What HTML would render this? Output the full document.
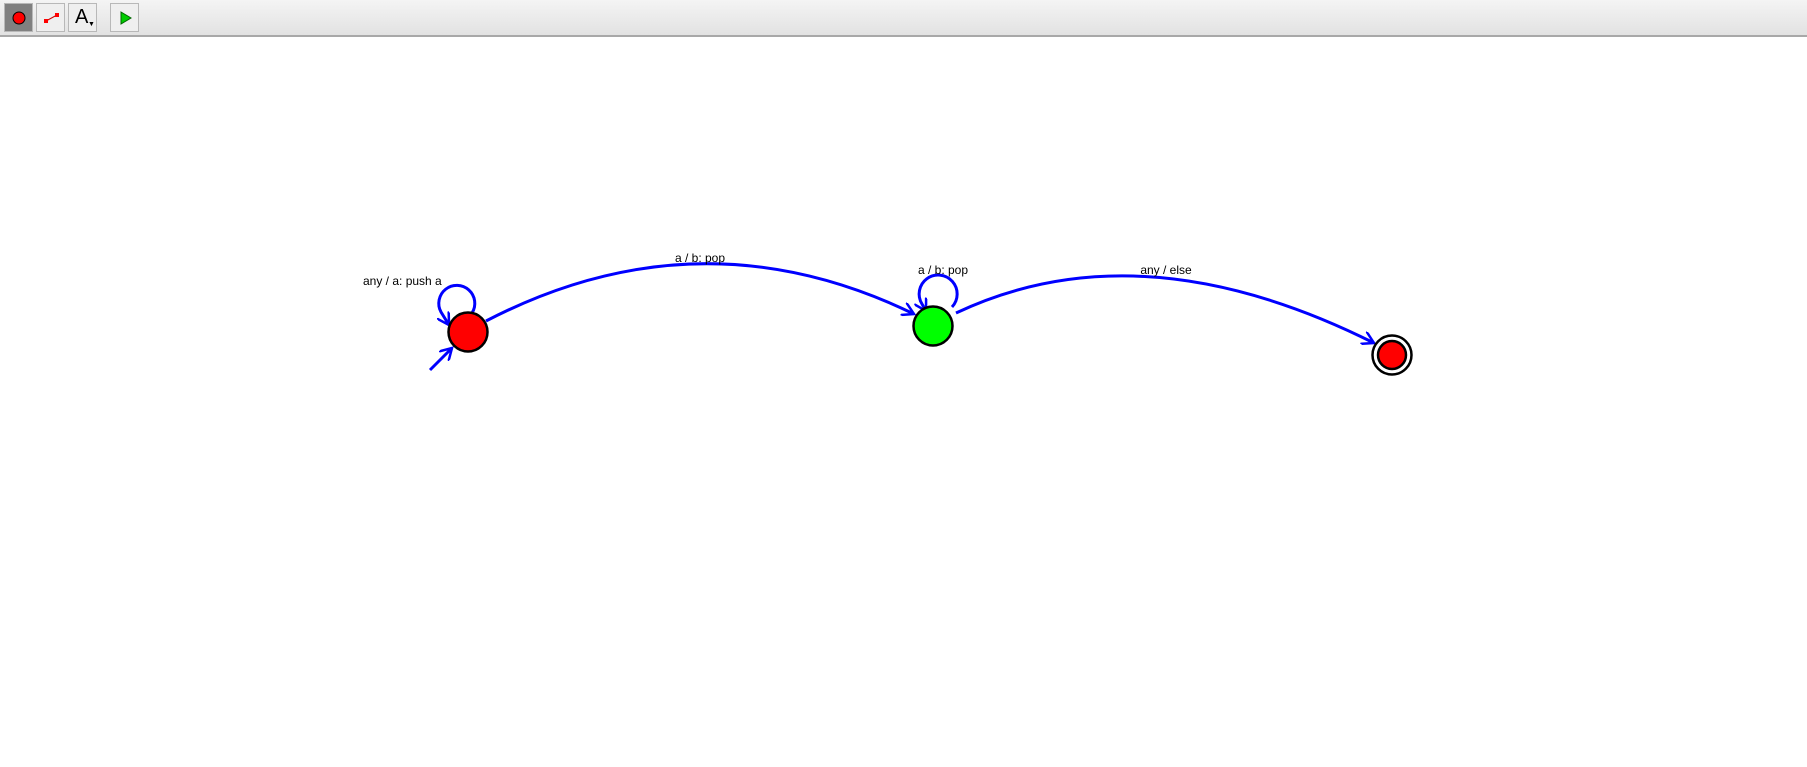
<!DOCTYPE html>
<html><head><meta charset="utf-8"><style>
body{margin:0;width:1807px;height:767px;overflow:hidden;background:#fff;font-family:"Liberation Sans",sans-serif}
#tb{position:absolute;left:0;top:0;width:1807px;height:35px;background:linear-gradient(#f4f4f4,#e2e2e2);border-bottom:2px solid #a8a8a8}
.btn{position:absolute;top:3px;width:29px;height:29px;box-sizing:border-box;border:1px solid #b8b8b8;background:#efefef}
</style></head><body>
<div id="tb">
<div class="btn" style="left:4px;background:#808080"><svg width="27" height="27"><circle cx="14" cy="14" r="6" fill="#f00" stroke="#000"/></svg></div>
<div class="btn" style="left:36px"><svg width="27" height="27"><line x1="9" y1="17" x2="20" y2="11" stroke="#c00"/><rect x="7" y="15" width="4" height="4" fill="#f00"/><rect x="18" y="9" width="4" height="4" fill="#f00"/></svg></div>
<div class="btn" style="left:68px"><span style="position:absolute;left:6px;top:2px;font-size:20px">A</span><span style="position:absolute;left:19px;top:17px;font-size:7px">▼</span></div>
<div class="btn" style="left:110px"><svg width="27" height="27"><polygon points="10,8 20,14 10,20" fill="#0c0" stroke="#060"/></svg></div>
</div>
<svg width="1807" height="767" style="position:absolute;left:0;top:0">
<defs><marker id="ar" markerWidth="14" markerHeight="14" refX="12" refY="7" orient="auto" markerUnits="userSpaceOnUse"><path d="M0,0 L12,7 L0,14" fill="none" stroke="#00f" stroke-width="2.5"/></marker></defs>
<g fill="none" stroke="#00f" stroke-width="3">
<path d="M486,321 Q700,210 914,314" marker-end="url(#ar)"/>
<path d="M956,313 Q1140,226 1374,343" marker-end="url(#ar)"/>
<path d="M472,313 A18,18 0 1 0 441,312 L449,325" marker-end="url(#ar)"/>
<path d="M952,307 A19,19 0 1 0 922,304 L926,311" marker-end="url(#ar)"/>
<path d="M430,370 L452,348" marker-end="url(#ar)"/>
</g>
<circle cx="468" cy="332" r="19.5" fill="#f00" stroke="#000" stroke-width="2.5"/>
<circle cx="933" cy="326" r="19.5" fill="#0f0" stroke="#000" stroke-width="2.5"/>
<circle cx="1392" cy="355" r="19.5" fill="#fff" stroke="#000" stroke-width="2.5"/>
<circle cx="1392" cy="355" r="14" fill="#f00" stroke="#000" stroke-width="2.5"/>
<g font-size="12" fill="#000" font-family="Liberation Sans, sans-serif">
<text x="363" y="285">any / a: push a</text>
<text x="700" y="262" text-anchor="middle">a / b: pop</text>
<text x="943" y="274" text-anchor="middle">a / b: pop</text>
<text x="1166" y="274" text-anchor="middle">any / else</text>
</g>
</svg>
</body></html>
